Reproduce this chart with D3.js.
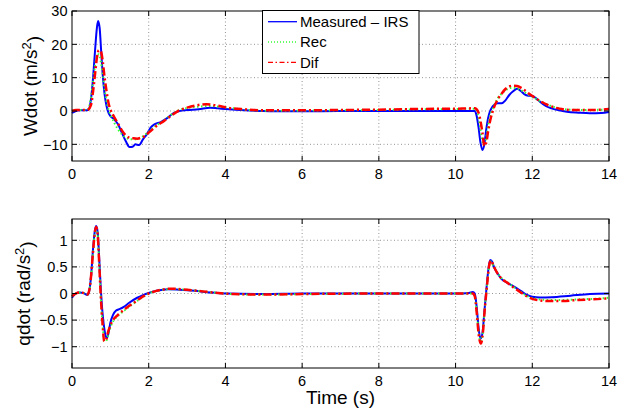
<!DOCTYPE html>
<html>
<head>
<meta charset="utf-8">
<script src="https://cdn.jsdelivr.net/npm/d3@7"></script>
<style>
  body { margin: 0; background: #fff; }
  svg { display: block; font-family: 'Liberation Sans', Arial, sans-serif; }
  .grid line { stroke: #7a7a7a; stroke-width: 0.8; stroke-dasharray: 1,2.5; }
  .frame { fill: none; stroke: #000; stroke-width: 1; }
  .tick-mark { stroke: #000; stroke-width: 1; }
  .tick-label { font-size: 14.5px; fill: #000; }
  .axis-label { font-size: 19px; fill: #000; }
  .series { fill: none; stroke-linejoin: round; stroke-linecap: butt; }
</style>
</head>
<body>
<svg id="the-svg" width="624" height="410"></svg>
<script>
// Data: [time (s), value]

const X_TICKS = [0, 2, 4, 6, 8, 10, 12, 14];
const W_TICKS = [-10, 0, 10, 20, 30];
const Q_TICKS = [-1, -0.5, 0, 0.5, 1];
const LEGEND_LABELS = ['Measured \u2013 IRS', 'Rec', 'Dif'];

const W_MEASURED = [
  [0,-0.6],[0.1,0],[0.2,0.2],[0.4,0.2],[0.45,0.8],[0.5,4],[0.55,10],[0.6,18],[0.65,25],[0.68,27],
  [0.72,25],[0.76,18],[0.8,11],[0.85,5],[0.9,1.5],[0.95,-0.5],[1.0,-1.5],[1.1,-2.5],[1.2,-4],[1.3,-6.5],
  [1.4,-9],[1.5,-10.8],[1.58,-10.7],[1.65,-10],[1.75,-10.2],[1.85,-8.5],[1.95,-7],[2.05,-5],[2.15,-4],
  [2.3,-3.4],[2.5,-2],[2.65,-0.6],[2.8,0],[3.0,0.3],[3.3,0.5],[3.6,1],[3.8,0.8],[4.0,0.6],[4.5,0.2],
  [5,0],[5.5,-0.1],[6,-0.1],[7,0],[8,0],[9,0],[10,0],[10.5,0],[10.55,-1.5],[10.6,-5],[10.65,-9.5],
  [10.7,-11.7],[10.75,-10],[10.8,-5.5],[10.85,-2],[10.92,0.5],[11.0,1.8],[11.1,2.3],[11.2,2.3],[11.3,3.2],
  [11.4,4.8],[11.5,5.9],[11.6,6.7],[11.7,6],[11.8,5],[11.9,4.6],[12.0,4.5],[12.1,3.8],[12.2,2.8],
  [12.35,1.5],[12.5,0.8],[12.7,0.2],[12.9,-0.2],[13.2,-0.5],[13.5,-0.7],[13.8,-0.6],[14,-0.3]
];

const W_REC = [
  [0,0],[0.1,0.3],[0.4,0.3],[0.45,1.5],[0.5,4.5],[0.55,9],[0.6,13.5],[0.65,16.5],[0.7,17],[0.75,15],
  [0.8,11],[0.85,6.5],[0.9,3],[0.95,0.5],[1.0,-1],[1.1,-3.5],[1.2,-5.5],[1.3,-7],[1.4,-8],[1.5,-8.4],
  [1.6,-8.5],[1.7,-8.4],[1.8,-8],[1.9,-7.2],[2.0,-6.2],[2.2,-4.3],[2.4,-2.8],[2.6,-1],[2.8,0.3],[3.0,0.9],
  [3.3,1.3],[3.6,1.5],[3.9,1.2],[4.2,0.8],[4.6,0.3],[5,0.1],[6,0.1],[7,0.2],[8,0.3],[9,0.5],[10,0.6],
  [10.5,0.7],[10.58,-1],[10.63,-4],[10.68,-8],[10.73,-10],[10.78,-9],[10.84,-5],[10.9,-1.5],[11.0,1.5],
  [11.1,3.8],[11.2,5.2],[11.3,6.2],[11.4,6.8],[11.5,7],[11.6,6.8],[11.7,6.3],[11.8,5.6],[11.9,4.9],
  [12.0,4.3],[12.2,3],[12.4,1.9],[12.6,1.1],[12.8,0.6],[13,0.4],[13.5,0.3],[14,0.5]
];

const W_DIF = [
  [0,0],[0.1,0.3],[0.4,0.3],[0.5,2],[0.55,6],[0.6,11],[0.65,16],[0.7,18.2],[0.75,18],[0.8,15],
  [0.85,10],[0.9,6],[0.95,2.5],[1.0,0.5],[1.1,-1.8],[1.2,-3.8],[1.3,-5.8],[1.4,-7.3],[1.5,-8],[1.6,-8.2],
  [1.7,-8.3],[1.8,-8],[1.9,-7.5],[2.0,-6.5],[2.1,-5.5],[2.2,-4.5],[2.4,-3],[2.6,-1.3],[2.8,0.2],[3.0,1.0],
  [3.2,1.6],[3.5,2],[3.8,1.6],[4.0,1.1],[4.5,0.5],[5,0.2],[6,0.2],[7,0.3],[8,0.4],[9,0.6],[10,0.7],
  [10.5,0.8],[10.6,-0.5],[10.65,-3],[10.7,-6.5],[10.75,-10.5],[10.8,-9.5],[10.85,-6],[10.9,-3],[11.0,1],
  [11.1,3.5],[11.2,5.2],[11.3,6.6],[11.4,7.4],[11.5,7.6],[11.6,7.5],[11.7,7],[11.8,6.2],[11.9,5.3],
  [12.0,4.5],[12.2,3],[12.4,1.8],[12.6,1],[12.8,0.5],[13,0.3],[13.5,0.3],[13.8,0.4],[14,0.6]
];

const Q_MEASURED = [
  [0,-0.08],[0.1,0],[0.2,0.02],[0.3,0.01],[0.4,-0.03],[0.45,0.05],[0.5,0.35],[0.55,0.85],[0.6,1.2],
  [0.63,1.27],[0.67,1.15],[0.71,0.65],[0.75,0.1],[0.8,-0.4],[0.85,-0.7],[0.9,-0.84],[0.95,-0.75],
  [1.0,-0.55],[1.07,-0.4],[1.15,-0.32],[1.25,-0.29],[1.35,-0.25],[1.5,-0.17],[1.7,-0.08],[1.85,-0.03],
  [2.0,0.01],[2.2,0.05],[2.5,0.08],[2.8,0.07],[3.2,0.05],[3.6,0.02],[4.0,0],[5,-0.01],[6,0],[8,0],
  [10,0],[10.35,0.01],[10.45,0.03],[10.5,0],[10.55,-0.25],[10.6,-0.65],[10.65,-0.85],[10.7,-0.75],
  [10.75,-0.35],[10.8,0.05],[10.85,0.42],[10.9,0.63],[10.95,0.6],[11.0,0.5],[11.1,0.37],[11.2,0.27],
  [11.35,0.2],[11.5,0.14],[11.7,0.05],[11.85,-0.02],[12.0,-0.06],[12.2,-0.075],[12.5,-0.07],[13,-0.04],
  [13.5,-0.01],[14,0]
];

const Q_REC = [
  [0,-0.05],[0.1,0],[0.2,0.02],[0.3,0.01],[0.4,-0.02],[0.45,0.05],[0.5,0.33],[0.55,0.78],[0.6,1.15],
  [0.63,1.23],[0.67,1.1],[0.71,0.55],[0.75,-0.05],[0.8,-0.6],[0.85,-0.9],[0.9,-0.88],[0.97,-0.7],
  [1.05,-0.55],[1.2,-0.42],[1.4,-0.3],[1.6,-0.19],[1.8,-0.09],[2.0,0],[2.2,0.05],[2.6,0.08],[3.0,0.07],
  [3.4,0.04],[3.8,0.01],[4.2,-0.01],[5,-0.02],[6,-0.01],[8,0],[10,0],[10.45,0],[10.5,-0.05],[10.55,-0.33],
  [10.6,-0.72],[10.66,-0.9],[10.71,-0.74],[10.76,-0.3],[10.82,0.15],[10.87,0.48],[10.92,0.6],[11.0,0.5],
  [11.1,0.38],[11.2,0.29],[11.35,0.21],[11.5,0.13],[11.7,0.03],[11.9,-0.06],[12.1,-0.1],[12.4,-0.12],
  [12.8,-0.12],[13.2,-0.11],[13.6,-0.1],[14,-0.08]
];

const Q_DIF = [
  [0,-0.05],[0.1,0],[0.2,0.02],[0.3,0.01],[0.4,-0.02],[0.45,0.06],[0.5,0.35],[0.55,0.8],[0.6,1.17],
  [0.63,1.25],[0.67,1.1],[0.71,0.55],[0.75,-0.05],[0.8,-0.6],[0.84,-0.9],[0.88,-0.88],[0.95,-0.7],
  [1.05,-0.52],[1.2,-0.4],[1.4,-0.28],[1.6,-0.18],[1.8,-0.08],[2.0,0],[2.2,0.05],[2.6,0.09],[3.0,0.07],
  [3.4,0.04],[3.8,0.01],[4.2,-0.01],[5,-0.02],[6,-0.01],[8,0],[10,0],[10.45,0],[10.5,-0.05],[10.55,-0.35],
  [10.6,-0.75],[10.66,-0.94],[10.71,-0.75],[10.76,-0.3],[10.82,0.15],[10.87,0.5],[10.92,0.62],[11.0,0.5],
  [11.1,0.37],[11.2,0.28],[11.35,0.2],[11.5,0.12],[11.7,0.02],[11.9,-0.07],[12.1,-0.12],[12.4,-0.14],
  [12.8,-0.14],[13.2,-0.12],[13.6,-0.11],[14,-0.09]
];

// line styles, same order as the legend
const STYLES = [
  { color: '#0000ff', width: 2, dash: null },
  { color: '#33ff33', width: 2, dash: '1.5,2.5' },
  { color: '#ff0000', width: 2.5, dash: '8,3,2,3' }
];

const svg = d3.select('svg');
const x = d3.scaleLinear().domain([0, 14]).range([72, 609]);

/*
 * Draws one MATLAB style panel: boxed axes, inward ticks on all four
 * sides, dotted grid, and the three series.
 */
function drawPanel(opts) {
  const y = d3.scaleLinear().domain(opts.yDomain).range([opts.bottom, opts.top]);
  const g = svg.append('g');
  const [x0, x1] = x.range();
  const tickLen = 5;

  // grid
  const grid = g.append('g').attr('class', 'grid');
  grid.selectAll('.gx')
    .data(X_TICKS.filter(t => t > 0 && t < 14))
    .enter().append('line')
      .attr('x1', d => x(d)).attr('x2', d => x(d))
      .attr('y1', opts.top).attr('y2', opts.bottom);
  grid.selectAll('.gy')
    .data(opts.yTicks.filter(t => y(t) > opts.top + 1 && y(t) < opts.bottom - 1))
    .enter().append('line')
      .attr('x1', x0).attr('x2', x1)
      .attr('y1', d => y(d)).attr('y2', d => y(d));

  // series
  const line = d3.line()
    .x(d => x(d[0]))
    .y(d => y(d[1]))
    .curve(d3.curveMonotoneX);

  opts.series.forEach((s, i) => {
    g.append('path')
      .datum(s)
      .attr('class', 'series')
      .attr('d', line)
      .attr('stroke', STYLES[i].color)
      .attr('stroke-width', STYLES[i].width)
      .attr('stroke-dasharray', STYLES[i].dash);
  });

  // ticks on all sides
  X_TICKS.forEach(t => {
    g.append('line').attr('class', 'tick-mark')
      .attr('x1', x(t)).attr('x2', x(t)).attr('y1', opts.bottom).attr('y2', opts.bottom - tickLen);
    g.append('line').attr('class', 'tick-mark')
      .attr('x1', x(t)).attr('x2', x(t)).attr('y1', opts.top).attr('y2', opts.top + tickLen);
    g.append('text').attr('class', 'tick-label')
      .attr('x', x(t)).attr('y', opts.bottom + 17.5)
      .attr('text-anchor', 'middle')
      .text(t);
  });
  opts.yTicks.forEach(t => {
    g.append('line').attr('class', 'tick-mark')
      .attr('x1', x0).attr('x2', x0 + tickLen).attr('y1', y(t)).attr('y2', y(t));
    g.append('line').attr('class', 'tick-mark')
      .attr('x1', x1).attr('x2', x1 - tickLen).attr('y1', y(t)).attr('y2', y(t));
    g.append('text').attr('class', 'tick-label')
      .attr('x', 67.5).attr('y', y(t))
      .attr('dy', '0.36em')
      .attr('text-anchor', 'end')
      .text(String(t).replace('-', '\u2212'));
  });

  g.append('rect').attr('class', 'frame')
    .attr('x', x0).attr('y', opts.top)
    .attr('width', x1 - x0).attr('height', opts.bottom - opts.top);

  // y label with a superscript 2
  const lbl = g.append('text').attr('class', 'axis-label')
    .attr('transform', `translate(${opts.labelX},${(opts.top + opts.bottom) / 2}) rotate(-90)`)
    .attr('text-anchor', 'middle');
  lbl.append('tspan').text(opts.label);
  lbl.append('tspan').attr('dy', '-0.45em').style('font-size', '13px').text('2');
  lbl.append('tspan').attr('dy', '0.45em').text(')');

  return y;
}

drawPanel({
  top: 11, bottom: 161, yDomain: [-15, 30], yTicks: W_TICKS,
  series: [W_MEASURED, W_REC, W_DIF], label: 'Wdot (m/s', labelX: 37
});

drawPanel({
  top: 219, bottom: 368, yDomain: [-1.4, 1.4], yTicks: Q_TICKS,
  series: [Q_MEASURED, Q_REC, Q_DIF], label: 'qdot (rad/s', labelX: 30
});

svg.append('text').attr('class', 'axis-label')
  .attr('x', (x.range()[0] + x.range()[1]) / 2).attr('y', 404)
  .attr('text-anchor', 'middle')
  .text('Time (s)');

////////////
// Legend //
////////////

const legend = svg.append('g');
legend.append('rect')
  .attr('x', 262.5).attr('y', 10.5).attr('width', 156.5).attr('height', 63)
  .attr('fill', '#fff').attr('stroke', '#000').attr('stroke-width', 1);

LEGEND_LABELS.forEach((name, i) => {
  const ly = 21.7 + i * 20.3;
  legend.append('line')
    .attr('x1', 268).attr('x2', 297).attr('y1', ly).attr('y2', ly)
    .attr('stroke', STYLES[i].color)
    .attr('stroke-width', 1.3)
    .attr('stroke-dasharray', i === 2 ? '5,2.5,1.5,2.5' : (i === 1 ? '1,2' : null));
  legend.append('text')
    .attr('x', 300).attr('y', ly).attr('dy', '0.36em')
    .style('font-size', '15px')
    .text(name);
});
</script>
</body>
</html>
